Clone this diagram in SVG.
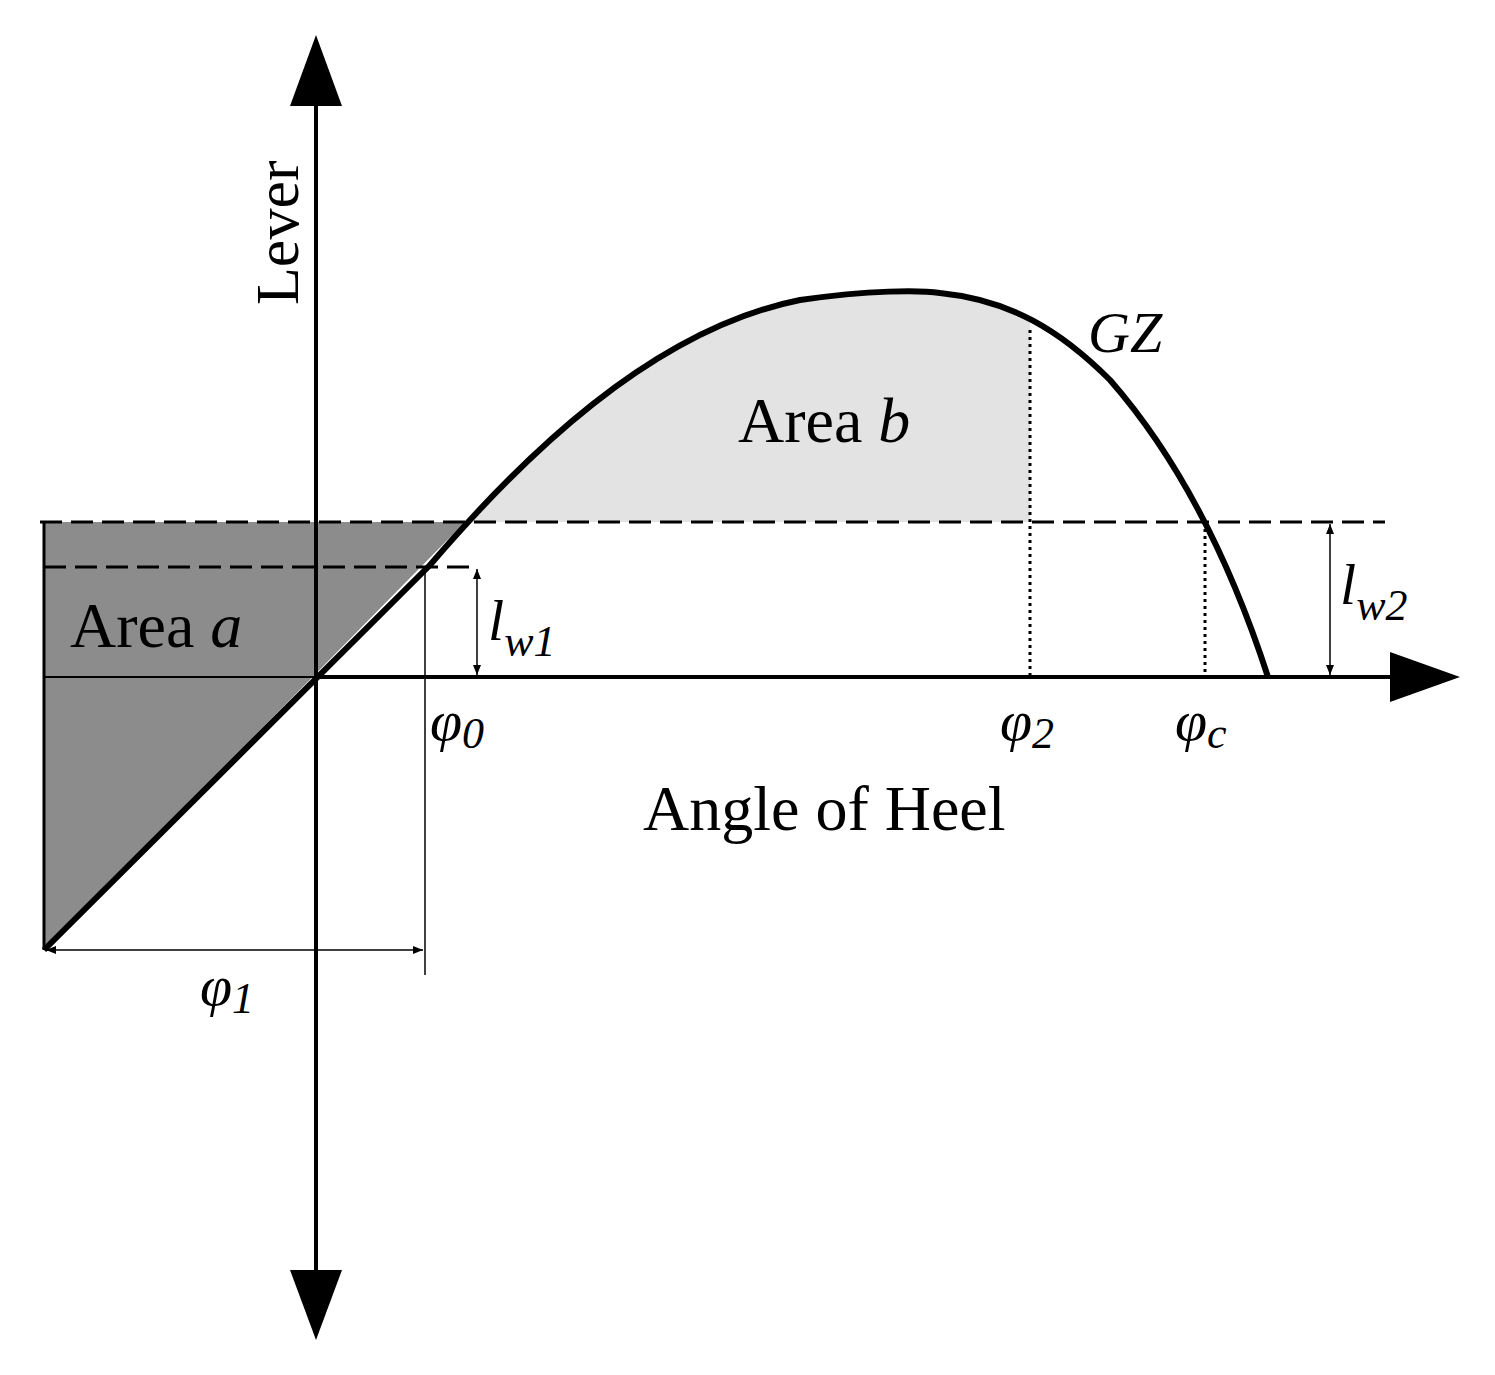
<svg xmlns="http://www.w3.org/2000/svg" width="1495" height="1375" viewBox="0 0 1495 1375">
<style>
text{font-family:"Liberation Serif",serif;fill:#000}
.thin{stroke:#000;stroke-width:1.5;fill:none}
.dash{stroke:#000;stroke-width:3;stroke-dasharray:22 9;fill:none}
.dot{stroke:#000;stroke-width:3;stroke-dasharray:3 4;fill:none}
</style>
<defs>
<marker id="ah" viewBox="0 0 10 10" refX="10" refY="5" markerWidth="14" markerHeight="10" markerUnits="userSpaceOnUse" orient="auto-start-reverse"><path d="M0,1 L10,5 L0,9 z" fill="#000"/></marker>
<clipPath id="cb"><rect x="0" y="0" width="1030" height="522"/></clipPath>
</defs>
<rect width="1495" height="1375" fill="#fff"/>
<path d="M430,565 C520,460 650,330 800,300 C870,290 920,290 940,293 C1010,300 1060,330 1110,380 C1180,460 1230,560 1268,677 L430,677 z" fill="#e3e3e3" clip-path="url(#cb)"/>
<polygon points="44,522 465,522 44,950" fill="#8c8c8c"/>
<g id="connectors">
<line class="thin" x1="44" y1="522" x2="44" y2="950" style="stroke-width:3"/>
<line class="thin" x1="44" y1="677" x2="316" y2="677" style="stroke-width:2"/>
<line class="dash" x1="40" y1="522" x2="1385" y2="522"/>
<line class="dash" x1="44" y1="567" x2="472" y2="567"/>
<line class="thin" x1="425" y1="567" x2="425" y2="975"/>
<line class="thin" x1="46" y1="950" x2="423" y2="950" marker-start="url(#ah)" marker-end="url(#ah)"/>
<line class="thin" x1="477" y1="569" x2="477" y2="675" marker-start="url(#ah)" marker-end="url(#ah)"/>
<line class="thin" x1="1330" y1="524" x2="1330" y2="675" marker-start="url(#ah)" marker-end="url(#ah)"/>
<line class="dot" x1="1030" y1="330" x2="1030" y2="677"/>
<line class="dot" x1="1205" y1="522" x2="1205" y2="677"/>
<line x1="316" y1="100" x2="316" y2="1275" stroke="#000" stroke-width="4"/>
<polygon points="316,35 290,106 342,106" fill="#000"/>
<polygon points="316,1340 290,1270 342,1270" fill="#000"/>
<line x1="316" y1="677" x2="1395" y2="677" stroke="#000" stroke-width="4"/>
<polygon points="1460,677 1390,652 1390,702" fill="#000"/>
<path d="M44,950 L430,565 C520,460 650,330 800,300 C870,290 920,290 940,293 C1010,300 1060,330 1110,380 C1180,460 1230,560 1268,677" fill="none" stroke="#000" stroke-width="6"/>
</g>
<text transform="translate(298,305) rotate(-90)" font-size="62">Lever</text>
<text x="738" y="442" font-size="64">Area <tspan font-style="italic">b</tspan></text>
<text x="1088" y="352" font-size="58" font-style="italic">GZ</text>
<text x="70" y="647" font-size="64">Area <tspan font-style="italic">a</tspan></text>
<text x="488" y="640" font-size="58" font-style="italic">l<tspan font-size="44" dy="16">w1</tspan></text>
<text x="1340" y="604" font-size="58" font-style="italic">l<tspan font-size="44" dy="16">w2</tspan></text>
<text x="430" y="740" font-size="58" font-style="italic">φ<tspan font-size="44" dy="8">0</tspan></text>
<text x="1000" y="740" font-size="58" font-style="italic">φ<tspan font-size="44" dy="8">2</tspan></text>
<text x="1175" y="740" font-size="58" font-style="italic">φ<tspan font-size="44" dy="8">c</tspan></text>
<text x="200" y="1005" font-size="58" font-style="italic">φ<tspan font-size="44" dy="8">1</tspan></text>
<text x="643" y="830" font-size="64">Angle of Heel</text>
</svg>
